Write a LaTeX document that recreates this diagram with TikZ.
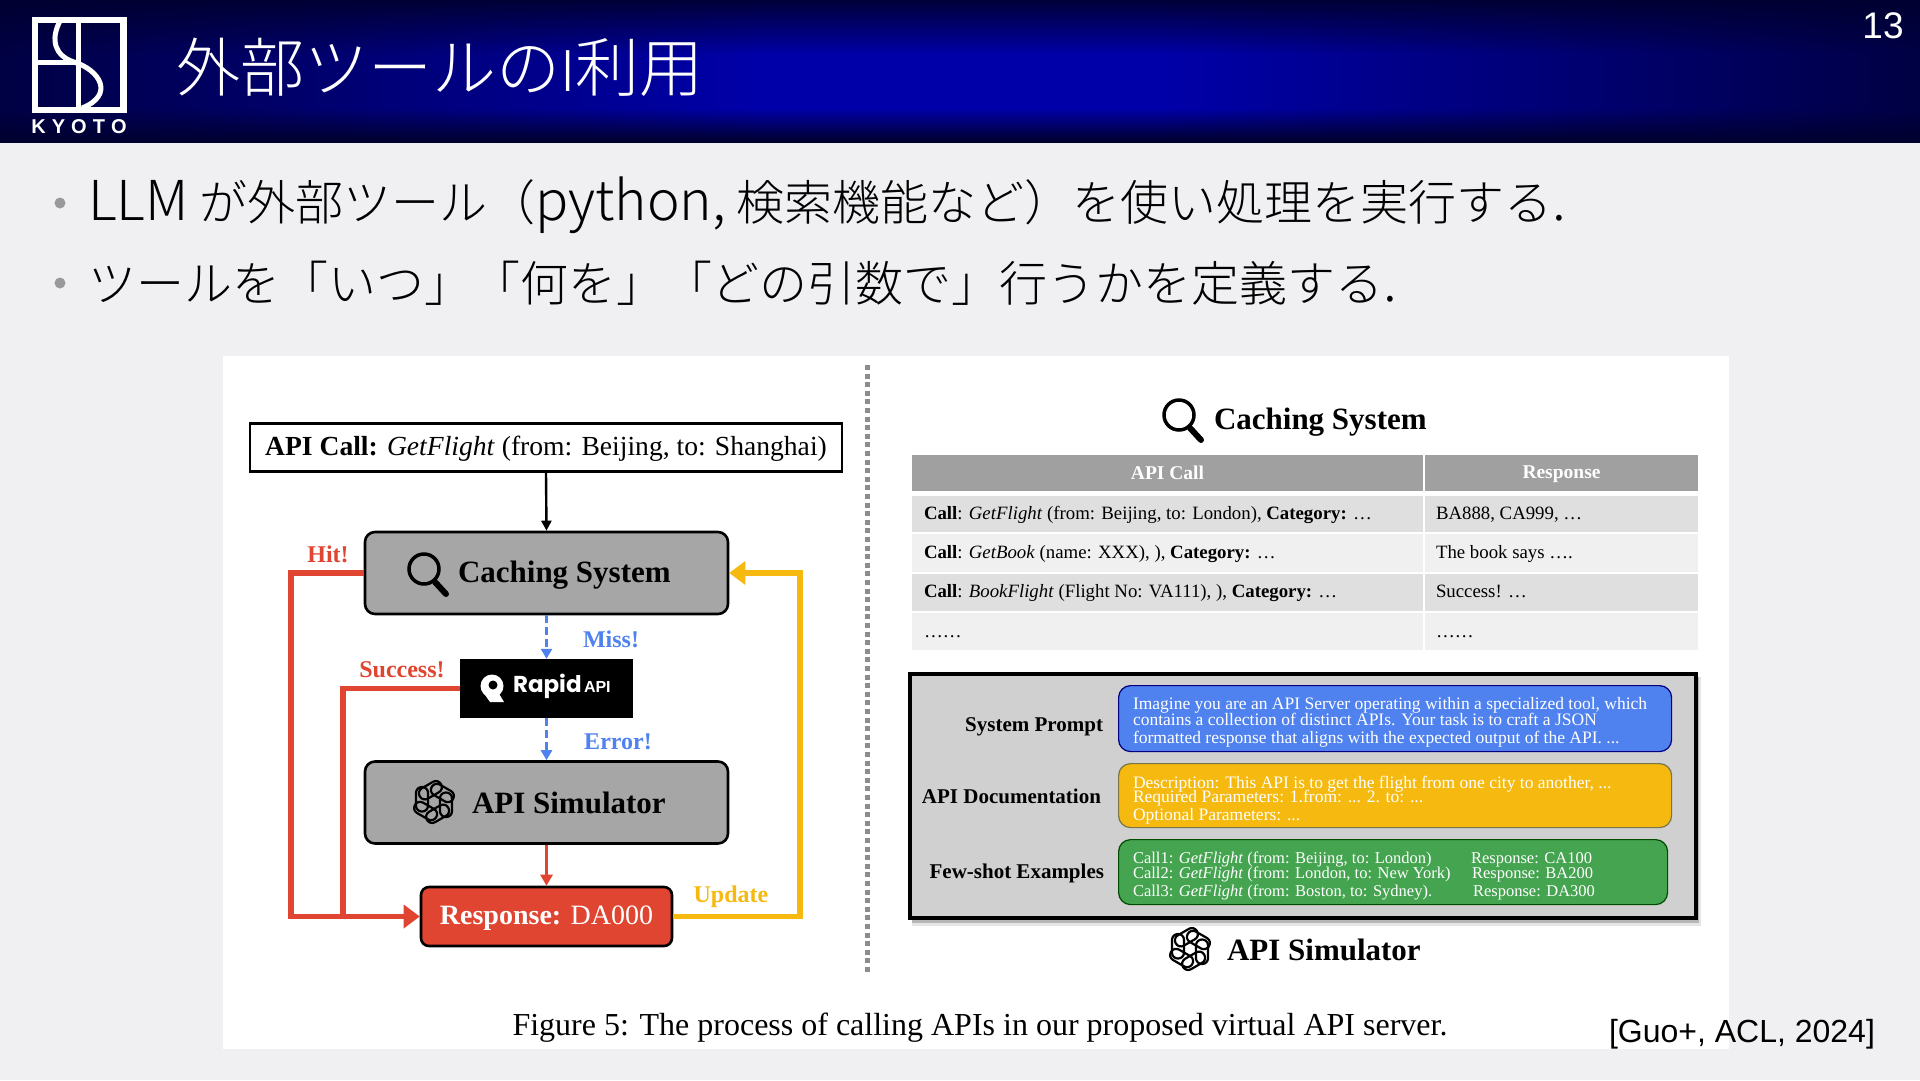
\documentclass[tikz,border=0pt]{standalone}
\usepackage{fontspec}
\usetikzlibrary{arrows.meta,shapes.geometric,calc,fadings}
\setmainfont{Liberation Serif}
\newfontfamily\lat{Liberation Sans}
\newfontfamily\cjk{Noto Sans CJK JP Light}
\newfontfamily\rap{Poppins}
\newcommand{\fsz}[1]{\fontsize{#1}{#1}\selectfont}
\newcommand{\mystrut}{\rule[-.18em]{0pt}{.98em}}
\definecolor{pagebg}{HTML}{F0F0F2}
\definecolor{hdrblue}{HTML}{0000A8}
\definecolor{hdrtop}{HTML}{000038}
\definecolor{hdrbot}{HTML}{000028}
\definecolor{hdrdark}{HTML}{000030}
\definecolor{cred}{HTML}{DF4530}
\definecolor{cblue}{HTML}{4F82EE}
\definecolor{cyel}{HTML}{F5B90F}
\definecolor{cgreen}{HTML}{45A450}
\definecolor{boxgray}{HTML}{A6A6A6}
\definecolor{thead}{HTML}{A0A0A0}
\definecolor{trowa}{HTML}{DFDFDF}
\definecolor{trowb}{HTML}{F0F0F0}
\definecolor{simbg}{HTML}{D0D0D0}
\tikzset{
  txt/.style={inner sep=0pt,outer sep=0pt,execute at begin node={\mystrut}},
  bigbox/.style={draw=black,line width=2.6pt,rounded corners=10pt,fill=boxgray,minimum width=363pt,minimum height=82pt,inner sep=0pt},
  cell/.style={inner sep=0pt,outer sep=0pt,minimum height=37pt,anchor=north west},
  lab/.style={txt,font=\fsz{24}\bfseries},
  redl/.style={draw=cred,line width=5.2pt},
  pill/.style={rounded corners=12pt,line width=1.2pt,inner sep=0pt,anchor=north west},
  ptxt/.style={txt,anchor=west,text=white,font=\fsz{17.5}},
  gtxt/.style={txt,anchor=west,text=white,font=\fsz{16.5}},
  row/.style={txt,anchor=west,font=\fsz{18.8}},
  rowhead/.style={txt,text=white,font=\fsz{19.5}\bfseries},
  slab/.style={txt,anchor=east,font=\fsz{21}\bfseries},
  bul/.style={txt,anchor=west,font=\fsz{48}\cjk},
  dot/.style={circle,fill=gray!80,inner sep=0pt,minimum size=11pt}
}
\newcommand{\magnif}[2]{%
  \draw[black,line width=3.5pt] (#1,#2) circle (15pt);
  \draw[black,line width=6pt,line cap=round] ({#1+11},{#2+13}) -- ({#1+22},{#2+25});
}
\newcommand{\gptlogo}[2]{%
  \foreach \a in {0,60,...,300}{
    \draw[black,line width=2.2pt,rounded corners=5.8pt,rotate around={\a:(#1,#2)}] ({#1-18},{#2-15}) rectangle ({#1-6},{#2+9.5});
  }
}
\begin{document}
\begin{tikzpicture}[x=1pt,y=-1pt]
\useasboundingbox (0,0) rectangle (1920,1080);
\fill[pagebg] (0,0) rectangle (1920,1080);
% header
\begin{scope}
\clip (0,0) rectangle (1920,142.5);
\shade[top color=hdrtop,bottom color=hdrblue] (0,0) rectangle (1920,55);
\fill[hdrblue] (0,54.5) rectangle (1920,108.5);
\shade[top color=hdrblue,bottom color=hdrbot] (0,108) rectangle (1920,143);
\fill[hdrdark,path fading=east] (-150,-2) rectangle (750,145);
\fill[hdrdark,path fading=west] (1170,-2) rectangle (2070,145);
\end{scope}
% logo
\draw[white,line width=6.5pt] (35,20) rectangle (123.5,110);
\draw[white,line width=5pt] (78,20) -- (78,110);
\draw[white,line width=5pt] (35,62) -- (78,62);
\draw[white,line width=5pt] (60,21) .. controls (50,40) and (55,56) .. (74,62) .. controls (100,70) and (115,95) .. (82,108);
\node[txt,text=white,font=\fsz{20}\lat\bfseries] (kyoto) at (79,127) {K\hspace{6pt}Y\hspace{6pt}O\hspace{6pt}T\hspace{6pt}O};
\node[txt,anchor=west,text=white,font=\fsz{64}\cjk] (title) at (176,71) {外部ツールの{\fsz{56}I}利用};
\node[txt,font=\fsz{37}\lat] (pnum) at (1883,27) {\textcolor{white}{13}};
% bullets
\node[dot] (d1) at (60,203) {};
\node[dot] (d2) at (60,283) {};
\node[bul] (b1) at (88,205) {{\fsz{55}LLM} が外部ツール（{\fsz{55}python,} 検索機能など）を使い処理を実行する{\fsz{55}.}};
\node[bul] (b2) at (88,286) {ツールを「いつ」「何を」「どの引数で」行うかを定義する{\fsz{55}.}};
% figure panel
\fill[white] (223,356) rectangle (1729,1049);
\draw[gray!90,line width=5pt,dash pattern=on 5pt off 3.6pt] (867,365) -- (867,975);
% left flow
\node[draw=black,line width=2.6pt,fill=white,minimum width=592pt,minimum height=48pt,inner sep=0pt,font=\fsz{27.6},execute at begin node={\mystrut}] (call) at (546,447.5) {\textbf{API Call:} \textit{GetFlight} (from: Beijing, to: Shanghai)};
\node[bigbox] (cache) at (546.5,573) {};
\node[fill=black,minimum width=173pt,minimum height=59pt,inner sep=0pt] (rapid) at (546.5,688.5) {};
\node[bigbox] (sim) at (546.5,802.5) {};
\node[draw=black,line width=2.6pt,rounded corners=8pt,fill=cred,minimum width=251pt,minimum height=59pt,inner sep=0pt,text=white,font=\fsz{28},execute at begin node={\mystrut}] (resp) at (546.5,916.5) {\textbf{Response:} DA000};
\coordinate (hitc) at (291,730);
\coordinate (succ) at (343,800);
\coordinate (updc) at (800,730);
\magnif{424}{569}
\node[txt,anchor=west,font=\fsz{31}\bfseries] (cachet) at (458,574) {Caching System};
\gptlogo{434}{802}
\node[txt,anchor=west,font=\fsz{31}\bfseries] (simt) at (472,804) {API Simulator};
% rapid api logo
\fill[white] (492,686) circle (11.5pt);
\fill[white] (483,692) -- (490,702) -- (504,702) -- (498,692) -- cycle;
\fill[black] (493,685) circle (4.5pt);
\node[txt,anchor=west,text=white,font=\fsz{23}\rap\bfseries] (rapidt) at (513,686) {Rapid};
\node[txt,anchor=west,text=white,font=\fsz{16}\lat\bfseries] (apit) at (584,688) {API};
% connectors
\draw[-{Triangle[length=10pt,width=10pt]},line width=2.4pt] (call.south) -- (cache.north);
\draw[redl] (cache.west) -| (hitc) |- ($(resp.west)+(-14,0)$);
\draw[redl] (rapid.west) -| (succ) |- ($(resp.west)+(-14,0)$);
\fill[cred] (resp.west) -- ++(-16,-12) -- ++(0,24) -- cycle;
\draw[draw=cyel,line width=5.2pt] (resp.east) -| (updc) |- ($(cache.east)+(14,0)$);
\fill[cyel] (cache.east) -- ++(16,-12) -- ++(0,24) -- cycle;
\draw[cblue,line width=3.4pt,dash pattern=on 8pt off 4pt,-{Triangle[length=10pt,width=11pt]}] (cache.south) -- (rapid.north);
\draw[cblue,line width=3.4pt,dash pattern=on 8pt off 4pt,-{Triangle[length=10pt,width=11pt]}] (rapid.south) -- (sim.north);
\draw[cred,line width=3.2pt,-{Triangle[length=11pt,width=12pt]}] (sim.south) -- (resp.north);
\node[lab,text=cred] (hit) at (328,555) {Hit!};
\node[lab,text=cblue] (miss) at (611,640) {Miss!};
\node[lab,text=cred] (succl) at (402,670) {Success!};
\node[lab,text=cblue] (err) at (618,742) {Error!};
\node[lab,text=cyel] (upd) at (731,895) {Update};
% right caching
\magnif{1179}{415}
\node[txt,anchor=west,font=\fsz{31}\bfseries] (ct2) at (1214,421) {Caching System};
\node[cell,fill=thead,minimum width=511pt,minimum height=36pt] (h1) at (912,455) {};
\node[cell,fill=thead,minimum width=273pt,minimum height=36pt] (h2) at (1425,455) {};
\node[rowhead] (h1t) at (h1.center) {API Call};
\node[rowhead] (h2t) at (h2.center) {Response};
\node[cell,fill=trowa,minimum width=511pt,minimum height=36pt] (r1a) at (912,496) {};
\node[cell,fill=trowa,minimum width=273pt,minimum height=36pt] (r1b) at (1425,496) {};
\node[cell,fill=trowb,minimum width=511pt,minimum height=38pt] (r2a) at (912,534) {};
\node[cell,fill=trowb,minimum width=273pt,minimum height=38pt] (r2b) at (1425,534) {};
\node[cell,fill=trowa,minimum width=511pt,minimum height=37pt] (r3a) at (912,574) {};
\node[cell,fill=trowa,minimum width=273pt,minimum height=37pt] (r3b) at (1425,574) {};
\node[cell,fill=trowb,minimum width=511pt,minimum height=37pt] (r4a) at (912,613) {};
\node[cell,fill=trowb,minimum width=273pt,minimum height=37pt] (r4b) at (1425,613) {};
\node[row] at (924,514) {\textbf{Call}: \textit{GetFlight} (from: Beijing, to: London), \textbf{Category:} …};
\node[row] at (1436,514) {BA888, CA999, …};
\node[row] at (924,553) {\textbf{Call}: \textit{GetBook} (name: XXX), ), \textbf{Category:} …};
\node[row] at (1436,553) {The book says ….};
\node[row] at (924,592) {\textbf{Call}: \textit{BookFlight} (Flight No: VA111), ), \textbf{Category:} …};
\node[row] at (1436,592) {Success! …};
\node[row] at (924,632) {……};
\node[row] at (1436,632) {……};
% right simulator
\fill[black,opacity=.10] (912,677) rectangle (1701,926);
\fill[black,opacity=.20] (912,677) rectangle (1699,923);
\node[draw=black,line width=4pt,fill=simbg,minimum width=786pt,minimum height=244pt,inner sep=0pt,outer sep=0pt,anchor=north west] (simbox) at (910,673.5) {};
\node[pill,draw=blue!50!black,fill=cblue,minimum width=553pt,minimum height=66pt] (pb) at (1118,685) {};
\node[pill,draw=yellow!40!black,fill=cyel,minimum width=553pt,minimum height=64pt] (py) at (1118,763) {};
\node[pill,draw=green!30!black,fill=cgreen,minimum width=549pt,minimum height=65pt] (pg) at (1118,839) {};
\node[slab] (sl1) at (1103,725) {System Prompt};
\node[slab] (sl2) at (1101,797) {API Documentation};
\node[slab] (sl3) at (1104,872) {Few-shot Examples};
\node[ptxt] at (1133,704) {Imagine you are an API Server operating within a specialized tool, which};
\node[ptxt] at (1133,720) {contains a collection of distinct APIs. Your task is to craft a JSON};
\node[ptxt] at (1133,738) {formatted response that aligns with the expected output of the API. ...};
\node[ptxt] at (1133,783) {Description: This API is to get the flight from one city to another, ...};
\node[ptxt] at (1133,797) {Required Parameters: 1.from: ... 2. to: ...};
\node[ptxt] at (1133,815) {Optional Parameters: ...};
\node[gtxt] at (1133,859) {Call1: \textit{GetFlight} (from: Beijing, to: London)};
\node[gtxt] at (1133,874) {Call2: \textit{GetFlight} (from: London, to: New York)};
\node[gtxt] at (1133,892) {Call3: \textit{GetFlight} (from: Boston, to: Sydney).};
\node[gtxt] at (1471,859) {Response: CA100};
\node[gtxt] at (1472,874) {Response: BA200};
\node[gtxt] at (1473,892) {Response: DA300};
\gptlogo{1190}{949}
\node[txt,anchor=west,font=\fsz{31}\bfseries] (st2) at (1227,951) {API Simulator};
% caption
\node[txt,font=\fsz{32}] (cap) at (980,1026) {Figure 5: The process of calling APIs in our proposed virtual API server.};
\node[txt,anchor=west,font=\fsz{32}\lat] (cite) at (1609,1033) {[Guo+, ACL, 2024]};
\end{tikzpicture}
\end{document}
